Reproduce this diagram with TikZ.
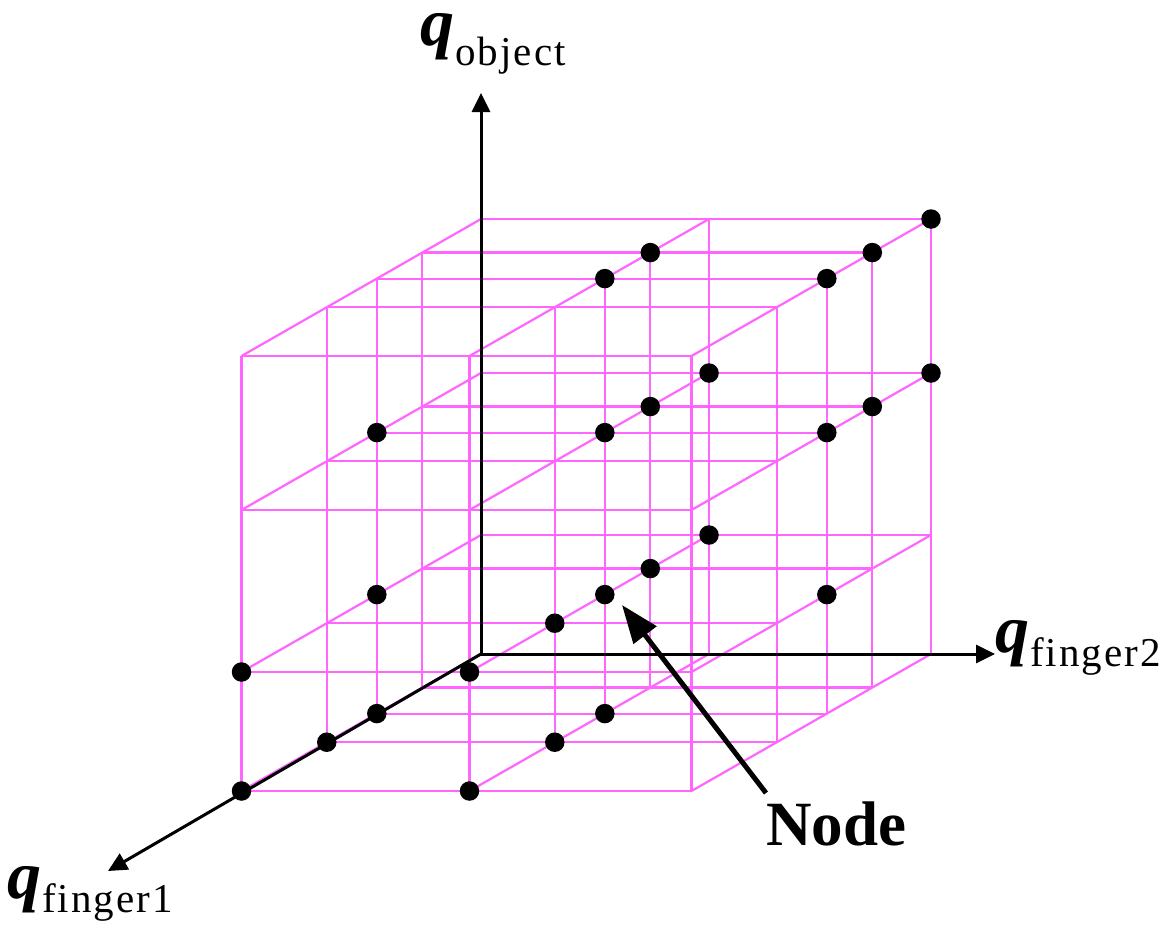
\documentclass[tikz,border=0pt]{standalone}
\usepackage{fontspec}
\setmainfont{Liberation Serif}
\newfontfamily\subfont[LetterSpace=5]{Liberation Serif}
\usetikzlibrary{arrows.meta}
\definecolor{gridpink}{RGB}{255,102,255}
\newcommand\qlabel[2]{{\fontsize{68}{68}\selectfont\bfseries\itshape q}\kern1pt\raisebox{-#2pt}{\subfont\fontsize{41}{41}\selectfont #1}}
\begin{document}
\begin{tikzpicture}[x=1pt,y=1pt,
  gridline/.style={draw=gridpink,line width=2.2pt},
  axisline/.style={draw=black,line width=3pt,-{Triangle[length=19pt,width=18pt]}},
  gdot/.style={circle,fill=black,inner sep=0pt,minimum size=19.5pt},
  lab/.style={inner sep=0pt,anchor=base west}]
\useasboundingbox (0,0) rectangle (1176,-927);
\begin{scope}[shift={(481,-654)},x={(1pt,0pt)},y={(0pt,1pt)},z={(-239.5pt,-137pt)}]
  % lines along finger2 (horizontal)
  \foreach \Y/\Zs in {0/{0,0.245,0.435,0.644,1},119/{0,0.245,0.644,1},281/{0,0.245,0.435,0.644,1},435/{0,0.245,0.435,0.644,1}}{
    \foreach \Z in \Zs {\draw[gridline] (0,\Y,\Z) -- (450,\Y,\Z);}
  }
  % lines along object (vertical)
  \foreach \X in {0,228,450}{
    \foreach \Z in {0,0.245,0.435,0.644,1}{\draw[gridline] (\X,0,\Z) -- (\X,435,\Z);}
  }
  % lines along finger1 (depth)
  \foreach \X in {0,228,450}{
    \foreach \Y in {0,119,281,435}{\draw[gridline] (\X,\Y,0) -- (\X,\Y,1);}
  }
  \coordinate (O) at (0,0,0);
\end{scope}
\coordinate (tipobj) at (481,-93);
\coordinate (tipf2) at (995,-654);
\coordinate (tipf1) at (108,-871);
\draw[axisline] (O) -- (tipobj);
\draw[axisline] (O) -- (tipf2);
\draw[axisline] (O) -- (tipf1);
\begin{scope}[shift={(481,-654)},x={(1pt,0pt)},y={(0pt,1pt)},z={(-239.5pt,-137pt)}]
  \foreach \X/\Y/\Z [count=\i] in {
    450/435/0, 450/435/0.245, 450/435/0.435, 228/435/0.245, 228/435/0.435,
    228/281/0, 450/281/0, 228/281/0.245, 450/281/0.245, 0/281/0.435, 228/281/0.435, 450/281/0.435,
    228/119/0, 228/119/0.245, 228/119/0.435, 228/119/0.644, 228/119/1, 0/119/0.435, 450/119/0.435, 0/119/1,
    0/0/0.435, 228/0/0.435, 0/0/0.644, 228/0/0.644, 0/0/1, 228/0/1}
    {\node[gdot] (d\i) at (\X,\Y,\Z) {};}
\end{scope}
\node[lab] (lobj) at (420,-45) {\qlabel{object}{20}};
\node[lab] (lf2) at (995,-652) {\qlabel{finger2}{14}};
\node[lab] (lf1) at (7,-898) {\qlabel{finger1}{14}};
\node[lab] (lnode) at (766,-845) {\fontsize{63}{63}\selectfont\bfseries Node};
\coordinate (nstart) at (766,-793);
\coordinate (ntip) at (622,-605);
\draw[line width=5pt,-{Triangle[length=38pt,width=28pt]}] (nstart) -- (ntip);
\end{tikzpicture}
\end{document}
